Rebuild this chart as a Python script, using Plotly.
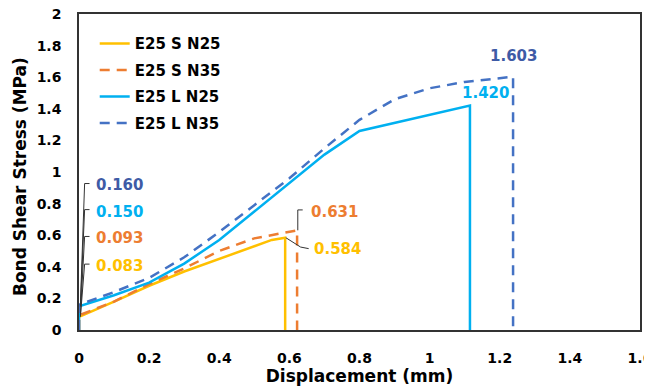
import plotly.graph_objects as go

# Data
s_n25_x = [0, 0, 0.1, 0.2, 0.3, 0.4, 0.5, 0.55, 0.588, 0.588]
s_n25_y = [0, 0.083, 0.18, 0.28, 0.37, 0.45, 0.53, 0.57, 0.584, 0]

s_n35_x = [0, 0, 0.1, 0.2, 0.3, 0.4, 0.5, 0.6, 0.622, 0.622]
s_n35_y = [0, 0.093, 0.18, 0.29, 0.39, 0.50, 0.58, 0.62, 0.631, 0]

l_n25_x = [0, 0, 0.1, 0.2, 0.3, 0.4, 0.5, 0.6, 0.7, 0.8, 1.115, 1.115]
l_n25_y = [0, 0.150, 0.22, 0.30, 0.42, 0.57, 0.75, 0.93, 1.11, 1.26, 1.420, 0]

l_n35_x = [0, 0, 0.1, 0.2, 0.3, 0.4, 0.5, 0.6, 0.7, 0.8, 0.9, 1.0, 1.1, 1.238, 1.238]
l_n35_y = [0, 0.160, 0.24, 0.33, 0.46, 0.62, 0.79, 0.96, 1.15, 1.33, 1.46, 1.53, 1.57, 1.603, 0]

series_names = ["E25 S N25", "E25 S N35", "E25 L N25", "E25 L N35"]
colors = ["#FFC000", "#ED7D31", "#00B0F0", "#4472C4"]
label_colors = ["#FFC000", "#ED7D31", "#00B0F0", "#3E5BA6"]
dashes = ["solid", "10px,7px", "solid", "10px,7px"]

FONT = "DejaVu Sans"

fig = go.Figure()
for i, (name, xs, ys, c, d) in enumerate(zip(series_names,
                              [s_n25_x, s_n35_x, l_n25_x, l_n35_x],
                              [s_n25_y, s_n35_y, l_n25_y, l_n35_y],
                              colors, dashes)):
    fig.add_trace(go.Scatter(x=xs, y=ys, mode="lines", name=f"<b>{name}</b>",
                             legendgroup=f"g{i}",
                             line=dict(color=c, width=2.5, dash=d)))

LEAD = dict(color="#333333", width=1)

# Initial value labels with leader lines
init_vals = [0.083, 0.093, 0.150, 0.160]
init_label_y = [0.405, 0.58, 0.75, 0.915]
for v, ly, c in zip(init_vals, init_label_y, label_colors):
    fig.add_shape(type="line", x0=0.004, y0=v, x1=0.016, y1=ly + 0.012, line=LEAD)
    fig.add_shape(type="line", x0=0.016, y0=ly + 0.012, x1=0.03, y1=ly + 0.012, line=LEAD)
    fig.add_annotation(x=0.042, y=ly, text=f"<b>{v:.3f}</b>", showarrow=False,
                       xanchor="left", yanchor="middle",
                       font=dict(family=FONT, size=15, color=c))

# Peak labels
# 0.631 (S N35)
fig.add_shape(type="line", x0=0.624, y0=0.631, x1=0.624, y1=0.76, line=LEAD)
fig.add_shape(type="line", x0=0.624, y0=0.76, x1=0.638, y1=0.76, line=LEAD)
fig.add_annotation(x=0.655, y=0.75, text="<b>0.631</b>", showarrow=False,
                   xanchor="left", yanchor="middle",
                   font=dict(family=FONT, size=15, color=label_colors[1]))
# 0.584 (S N25)
fig.add_shape(type="line", x0=0.59, y0=0.584, x1=0.632, y1=0.525, line=LEAD)
fig.add_shape(type="line", x0=0.632, y0=0.525, x1=0.655, y1=0.515, line=LEAD)
fig.add_annotation(x=0.665, y=0.51, text="<b>0.584</b>", showarrow=False,
                   xanchor="left", yanchor="middle",
                   font=dict(family=FONT, size=15, color=label_colors[0]))
# 1.420 (L N25)
fig.add_annotation(x=1.159, y=1.50, text="<b>1.420</b>", showarrow=False,
                   xanchor="center", yanchor="middle",
                   font=dict(family=FONT, size=15, color=label_colors[2]))
# 1.603 (L N35)
fig.add_annotation(x=1.238, y=1.735, text="<b>1.603</b>", showarrow=False,
                   xanchor="center", yanchor="middle",
                   font=dict(family=FONT, size=15, color=label_colors[3]))

# Y axis title as a rotated annotation (placed slightly below plot centre like the reference)
fig.add_annotation(xref="paper", yref="paper", x=0, y=0.484, xshift=-59,
                   text="<b>Bond Shear Stress (MPa)</b>", textangle=-90,
                   showarrow=False, xanchor="center", yanchor="middle",
                   font=dict(family=FONT, size=17, color="black"))

# page body has an 8px default margin, so the figure is sized/offset to compensate
fig.update_layout(
    width=644, height=381,
    margin=dict(l=71, r=12, t=6, b=59),
    paper_bgcolor="white", plot_bgcolor="white",
    font=dict(family=FONT, size=14, color="black"),
    showlegend=True,
    legend=dict(x=0.028, y=0.958, xanchor="left", yanchor="top",
                bgcolor="rgba(0,0,0,0)", tracegroupgap=4,
                font=dict(family=FONT, size=15, color="black")),
    xaxis=dict(range=[0, 1.6], dtick=0.2, tick0=0, automargin=False,
               showgrid=False, zeroline=False,
               showline=True, linecolor="#333333", linewidth=1.5, mirror=True,
               ticks="", ticklabelstandoff=14, ticklabeloverflow="allow",
               tickprefix="<b>", ticksuffix="</b>",
               tickfont=dict(family=FONT, size=14, color="black"),
               title=dict(text="<b>Displacement (mm)</b>", standoff=3,
                          font=dict(family=FONT, size=17, color="black"))),
    yaxis=dict(range=[0, 2], dtick=0.2, tick0=0, automargin=False,
               showgrid=False, zeroline=False,
               showline=True, linecolor="#333333", linewidth=1.5, mirror=True,
               ticks="", ticklabelstandoff=13, ticklabeloverflow="allow",
               tickprefix="<b>", ticksuffix="</b>",
               tickfont=dict(family=FONT, size=14, color="black")),
)

fig.write_html("out.html")
